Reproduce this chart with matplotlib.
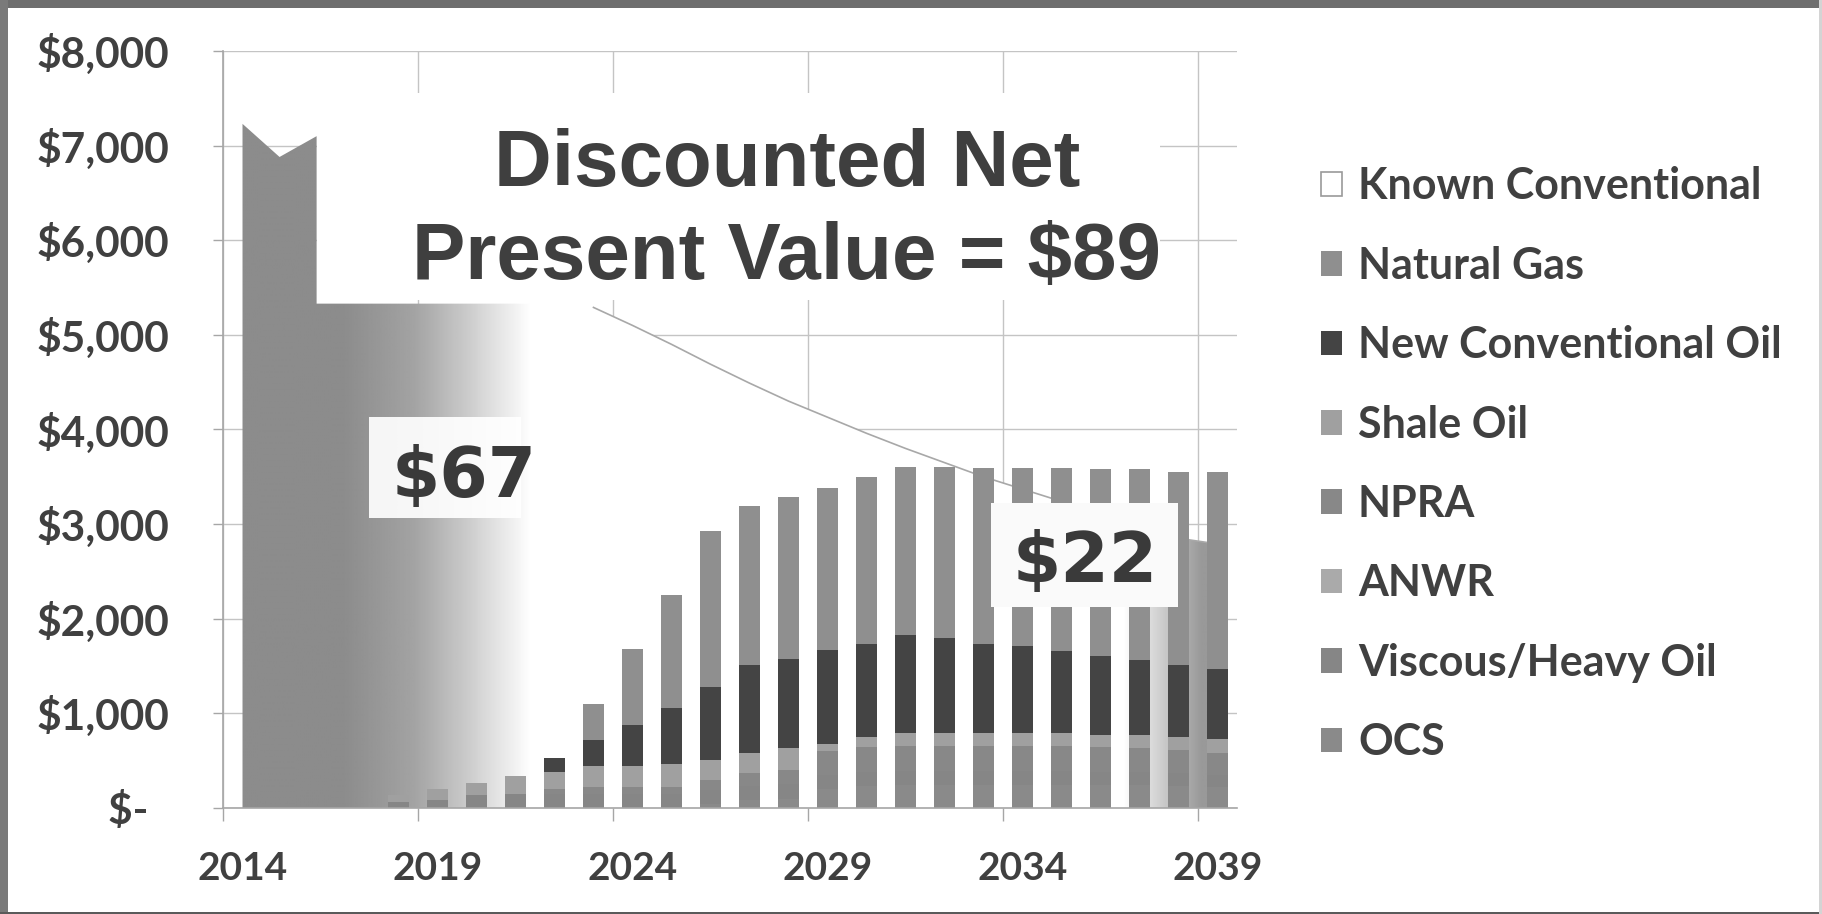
import numpy as np
import matplotlib
matplotlib.use("Agg")
import matplotlib.pyplot as plt
from matplotlib.patches import Polygon, Rectangle, Patch
from matplotlib.ticker import FuncFormatter

plt.rcParams["font.family"] = ["Lato", "DejaVu Sans"]
plt.rcParams["font.weight"] = "bold"

# Known Conventional (area behind the bars), 2014-2039
kc_years = list(range(2014, 2040))
known_conventional = [7230, 7100, 5330, 5330, 5330, 5330, 5330, 5330, 5320, 5290,
                      5100, 4900, 4690, 4490, 4300, 4130, 3960, 3800, 3650, 3500,
                      3370, 3240, 3110, 2980, 2850, 2790]

# stacked columns, 2018-2039
years = list(range(2018, 2040))
ocs = [0, 0, 0, 0, 0, 0, 0, 0, 40, 80, 100, 200, 230, 240, 240, 240, 240, 240, 240, 240, 235, 220]
viscous = [67, 85, 137, 148, 150, 150, 150, 150, 150, 150, 150, 150, 150, 150, 150, 150, 150, 150, 145, 140, 135, 130]
anwr = [0] * 22
npra = [0, 0, 0, 0, 47, 75, 75, 75, 106, 140, 152, 250, 260, 260, 260, 260, 260, 260, 255, 250, 240, 230]
shale_oil = [70, 120, 131, 194, 187, 215, 220, 237, 211, 214, 235, 77, 110, 146, 146, 146, 146, 146, 132, 142, 137, 146]
new_conv_oil = [0, 0, 0, 0, 148, 279, 432, 592, 775, 926, 938, 993, 980, 1033, 1004, 934, 914, 864, 838, 793, 768, 739]
natural_gas = [0, 0, 0, 0, 0, 381, 798, 1196, 1648, 1680, 1715, 1715, 1770, 1779, 1808, 1867, 1887, 1930, 1970, 2015, 2040, 2090]

# bottom to top
series = [
	("OCS", ocs, "#8a8a8a"),
	("Viscous/Heavy Oil", viscous, "#868686"),
	("ANWR", anwr, "#aaaaaa"),
	("NPRA", npra, "#888888"),
	("Shale Oil", shale_oil, "#a0a0a0"),
	("New Conventional Oil", new_conv_oil, "#444444"),
	("Natural Gas", natural_gas, "#8f8f8f"),
]

x_labels = [2014, 2019, 2024, 2029, 2034, 2039]
text_color = "#404040"

fig = plt.figure(figsize=(18.22, 9.14), dpi=100)
fig.patch.set_facecolor("white")
ax = fig.add_axes([0.1224, 0.116, 0.5565, 0.8282])
ax.set_facecolor("white")

# Known Conventional area, grey fading to white and back
break_x = kc_years[1] + 0.9
notch = known_conventional[1] - 220
verts = [(kc_years[0], known_conventional[0]),
	((kc_years[0] + break_x) / 2, notch),
	(break_x, known_conventional[1]),
	(break_x, known_conventional[2])]
verts += list(zip(kc_years[2:], known_conventional[2:]))
verts += [(kc_years[-1], 0), (kc_years[0], 0)]
kc_patch = Polygon(verts, closed=True, fill=False, edgecolor="none", zorder=1)
ax.add_patch(kc_patch)

xs = np.linspace(2013.5, 2039.5, 800)
shade = np.interp(xs, [2016.6, 2018.4, 2019.7, 2021.4, 2036.6, 2038.6], [0.55, 0.64, 0.79, 1.0, 1.0, 0.60])
im = ax.imshow(np.tile(shade, (2, 1)), cmap="gray", vmin=0, vmax=1, extent=[2013.5, 2039.5, 0, 8000],
	aspect="auto", interpolation="bilinear", zorder=1)
im.set_clip_path(kc_patch)
ax.plot(kc_years[9:], known_conventional[9:], color="#a8a8a8", lw=1.2, zorder=1.5)

bottom = np.zeros(len(years))
handles = {}
for name, vals, color in series:
	handles[name] = ax.bar(years, vals, width=0.55, bottom=bottom, color=color, linewidth=0, zorder=2)
	bottom += np.array(vals)

ax.set_xlim(2013.5, 2039.5)
ax.set_ylim(0, 8000)

ax.set_xticks(np.arange(2013.5, 2039, 5))
ax.set_xticks(x_labels, minor=True)
ax.set_xticklabels([], minor=False)
ax.set_xticklabels([str(y) for y in x_labels], minor=True)
ax.tick_params(axis="x", which="major", length=9, width=1, color="#a6a6a6", direction="out")
ax.tick_params(axis="x", which="minor", length=0, pad=31, labelsize=28, labelcolor=text_color)

ax.set_yticks(np.arange(0, 8001, 1000))
ax.yaxis.set_major_formatter(FuncFormatter(lambda v, p: "${:,.0f}".format(v) if v else "$-  "))
ax.tick_params(axis="y", length=7, width=1, color="#a6a6a6", pad=32, labelsize=30.5, labelcolor=text_color)

ax.set_axisbelow(True)
ax.grid(True, which="major", color="#c4c4c4", lw=1)
for s in ["top", "right"]:
	ax.spines[s].set_visible(False)
for s in ["left", "bottom"]:
	ax.spines[s].set_color("#a6a6a6")
	ax.spines[s].set_linewidth(1.2)

# white panel behind the headline
ax.add_patch(Rectangle((0.0927, 0.671), 0.831, 0.274, transform=ax.transAxes, facecolor="white", edgecolor="none", zorder=3))
title_font = ["Liberation Sans", "DejaVu Sans"]
ax.text(0.556, 0.822, "Discounted Net", transform=ax.transAxes, ha="center", va="baseline",
	family=title_font, weight="bold", fontsize=57.5, color="#3f3f3f", zorder=4)
ax.text(0.556, 0.699, "Present Value = $89", transform=ax.transAxes, ha="center", va="baseline",
	family=title_font, weight="bold", fontsize=57.5, color="#3f3f3f", zorder=4)

# value labels
ax.add_patch(Rectangle((0.144, 0.383), 0.150, 0.134, transform=ax.transAxes, facecolor="white", alpha=0.92, edgecolor="none", zorder=3))
ax.text(0.1667, 0.411, "$67", transform=ax.transAxes, ha="left", va="baseline",
	family="DejaVu Sans", weight="bold", fontsize=50, color="#3a3a3a", zorder=4)
ax.add_patch(Rectangle((0.757, 0.2656), 0.185, 0.1374, transform=ax.transAxes, facecolor="#fafafa", edgecolor="none", zorder=3))
ax.text(0.779, 0.299, "$22", transform=ax.transAxes, ha="left", va="baseline",
	family="DejaVu Sans", weight="bold", fontsize=50, color="#3a3a3a", zorder=4)

legend_names = ["Known Conventional", "Natural Gas", "New Conventional Oil", "Shale Oil", "NPRA", "ANWR", "Viscous/Heavy Oil", "OCS"]
legend_handles = [Patch(facecolor="white", edgecolor="#9a9a9a", linewidth=1.2)] + [handles[n] for n in legend_names[1:]]
fig.legend(legend_handles, legend_names, loc="upper left", bbox_to_anchor=(0.725, 0.818), frameon=False,
	fontsize=31, labelcolor=text_color, handlelength=0.5, handleheight=0.5, handletextpad=0.36,
	labelspacing=0.915, borderpad=0, borderaxespad=0)

# outer frame: heavy on top/left, thin on bottom/right
fw, fh = 1822.0, 914.0
fig.patches.append(Rectangle((0, 1 - 8 / fh), 1, 8 / fh, transform=fig.transFigure, facecolor="#6e6e6e", edgecolor="none", zorder=10))
fig.patches.append(Rectangle((0, 0), 8 / fw, 1, transform=fig.transFigure, facecolor="#7a7a7a", edgecolor="none", zorder=10))
fig.patches.append(Rectangle((0, 0), 1, 2 / fh, transform=fig.transFigure, facecolor="#5a5a5a", edgecolor="none", zorder=10))
fig.patches.append(Rectangle((1 - 3 / fw, 0), 3 / fw, 1, transform=fig.transFigure, facecolor="#d4d4d4", edgecolor="none", zorder=10))

fig.savefig("out.png", dpi=100, facecolor="white")
